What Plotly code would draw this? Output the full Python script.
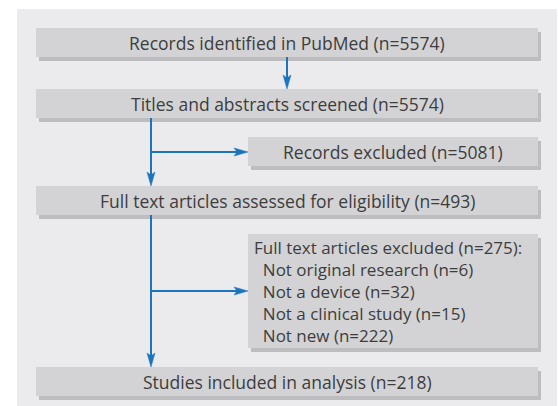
import plotly.graph_objects as go

# ---- data ----
stage_labels = ["Records identified in PubMed", "Titles and abstracts screened",
                "Full text articles assessed for eligibility", "Studies included in analysis"]
stage_counts = [5574, 5574, 493, 218]
excluded1_label = "Records excluded"
excluded1_count = 5081
excluded2_label = "Full text articles excluded"
excluded2_count = 275
reasons = ["Not original research", "Not a device", "Not a clinical study", "Not new"]
reason_counts = [6, 32, 15, 222]

# ---- layout geometry (pixels) ----
W, H = 558, 406
PANEL = "#ebebed"
BOX = "#d3d3d5"
SHADOW = "#bdbdbf"
BLUE = "#1a75bc"
TXT = "#3d3d3d"
FONT = "Open Sans"
FS = 17.5

fig = go.Figure()
shapes = []
annotations = []

shapes.append(dict(type="rect", x0=17, x1=557, y0=9, y1=407, fillcolor=PANEL, line_width=0, layer="below"))

def box(x0, x1, y0, y1):
    shapes.append(dict(type="rect", x0=x0 + 3, x1=x1 + 3, y0=y0 + 4, y1=y1 + 4,
                       fillcolor=SHADOW, line_width=0, layer="below"))
    shapes.append(dict(type="rect", x0=x0, x1=x1, y0=y0, y1=y1,
                       fillcolor=BOX, line_width=0, layer="below"))

def text(x, y, s, anchor="center", size=FS):
    annotations.append(dict(x=x, y=y, text=s, showarrow=False, xanchor=anchor, yanchor="middle",
                            align="left" if anchor == "left" else "center",
                            font=dict(family=FONT, size=size, color=TXT)))

stage_y = [(28, 57), (89, 118), (186, 215), (367, 396)]
for (y0, y1), lab, n in zip(stage_y, stage_labels, stage_counts):
    box(36, 538, y0, y1)
    text(287, (y0 + y1) / 2, f"{lab} (n={n})")

box(248, 538, 137, 166)
text(393, 151.5, f"{excluded1_label} (n={excluded1_count})")

box(248, 538, 234, 348)
lines = [f"{excluded2_label} (n={excluded2_count}):"] + \
        ["\u00a0\u00a0" + f"{r} (n={c})" for r, c in zip(reasons, reason_counts)]
text(252, 291, "<br>".join(lines), anchor="left", size=17)

def line(x0, y0, x1, y1):
    shapes.append(dict(type="line", x0=x0, y0=y0, x1=x1, y1=y1, line=dict(color=BLUE, width=2)))

def head_down(x, y):
    shapes.append(dict(type="path", path=f"M {x} {y} L {x-4} {y-14} L {x} {y-11} L {x+4} {y-14} Z",
                       fillcolor=BLUE, line=dict(color=BLUE, width=0.5)))

def head_right(x, y):
    shapes.append(dict(type="path", path=f"M {x} {y} L {x-14} {y-4} L {x-11} {y} L {x-14} {y+4} Z",
                       fillcolor=BLUE, line=dict(color=BLUE, width=0.5)))

line(287, 57, 287, 80); head_down(287, 89)
line(151, 118, 151, 177); head_down(151, 186)
line(151, 152, 239, 152); head_right(248, 152)
line(151, 215, 151, 358); head_down(151, 367)
line(151, 291, 239, 291); head_right(248, 291)

fig.update_layout(
    width=W, height=H, margin=dict(l=0, r=0, t=0, b=0),
    paper_bgcolor="white", plot_bgcolor="white",
    xaxis=dict(range=[0, W], visible=False, fixedrange=True),
    yaxis=dict(range=[H, 0], visible=False, fixedrange=True),
    shapes=shapes, annotations=annotations, showlegend=False,
)
fig.write_html("out.html", config={"displayModeBar": False},
               post_script="document.body.style.margin='0px';document.body.style.overflow='hidden';")
